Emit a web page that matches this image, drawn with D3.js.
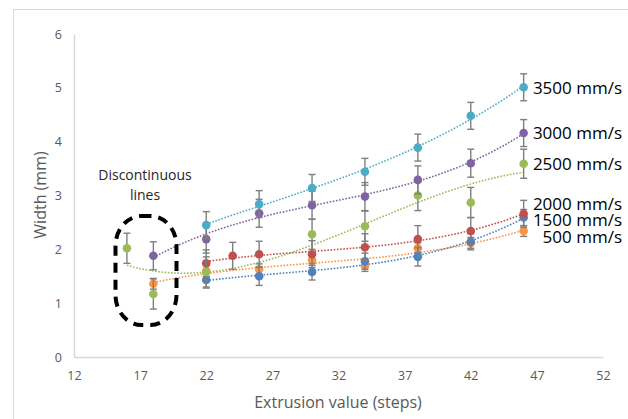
<!DOCTYPE html>
<html>
<head>
<meta charset="utf-8">
<script src="https://cdn.jsdelivr.net/npm/d3@7"></script>
<style>
  body { margin: 0; background: #fff; }
  svg { display: block; }
  text { font-family: "Open Sans", sans-serif; }
</style>
</head>
<body>
<svg id="chart" width="628" height="419"></svg>
<script>
/* data */
var speedLabels = ["500 mm/s", "1500 mm/s", "2000 mm/s", "2500 mm/s", "3000 mm/s", "3500 mm/s"];
var seriesColors = ["#F79646", "#4F81BD", "#C0504D", "#9BBB59", "#8064A2", "#4BACC6"];

var steps500 = [18, 22, 26, 30, 34, 38, 42, 46];
var width500 = [1.36, 1.60, 1.63, 1.80, 1.69, 2.02, 2.12, 2.34];
var err500   = [0.10, 0.10, 0.10, 0.10, 0.10, 0.10, 0.10, 0.10];

var steps1500 = [22, 26, 30, 34, 38, 42, 46];
var width1500 = [1.43, 1.50, 1.58, 1.78, 1.86, 2.14, 2.59];
var err1500   = [0.15, 0.17, 0.15, 0.15, 0.17, 0.15, 0.15];

var steps2000 = [22, 24, 26, 30, 34, 38, 42, 46];
var width2000 = [1.74, 1.88, 1.91, 1.91, 2.04, 2.19, 2.34, 2.66];
var err2000   = [0.25, 0.25, 0.24, 0.25, 0.25, 0.25, 0.25, 0.25];

var steps2500 = [16, 18, 22, 30, 34, 38, 42, 46];
var width2500 = [2.02, 1.17, 1.58, 2.28, 2.43, 3.00, 2.87, 3.59];
var err2500   = [0.28, 0.28, 0.28, 0.28, 0.28, 0.28, 0.28, 0.27];

var steps3000 = [18, 22, 26, 30, 34, 38, 42, 46];
var width3000 = [1.88, 2.19, 2.67, 2.82, 2.98, 3.29, 3.60, 4.16];
var err3000   = [0.26, 0.26, 0.26, 0.26, 0.26, 0.26, 0.26, 0.25];

var steps3500 = [22, 26, 30, 34, 38, 42, 46];
var width3500 = [2.45, 2.84, 3.14, 3.44, 3.89, 4.48, 5.01];
var err3500   = [0.25, 0.25, 0.25, 0.25, 0.25, 0.25, 0.25];

var xTicks = [12, 17, 22, 27, 32, 37, 42, 47, 52];
var yTicks = [0, 1, 2, 3, 4, 5, 6];

var allSteps = [steps500, steps1500, steps2000, steps2500, steps3000, steps3500];
var allWidths = [width500, width1500, width2000, width2500, width3000, width3500];
var allErrs = [err500, err1500, err2000, err2500, err3000, err3500];

// small vertical nudges so the end labels sit like the original (pixels)
var labelNudge = [6.5, 2, -10, 0.5, 0, 0.7];

var svg = d3.select("#chart");

var x = d3.scaleLinear().domain([12, 52]).range([74, 603]);
var y = d3.scaleLinear().domain([0, 6]).range([357, 34]);

// outer chart frame
svg.append("rect")
  .attr("x", 13.5).attr("y", 9.5)
  .attr("width", 700).attr("height", 500)
  .attr("fill", "none").attr("stroke", "#d9d9d9");

// axes
var xAxis = svg.append("g")
  .attr("transform", "translate(0," + y(0) + ")")
  .call(d3.axisBottom(x).tickValues(xTicks).tickSize(0).tickPadding(14));
var yAxis = svg.append("g")
  .attr("transform", "translate(" + x(12) + ",0)")
  .call(d3.axisLeft(y).tickValues(yTicks).tickFormat(d3.format("d")).tickSize(0).tickPadding(12));

[xAxis, yAxis].forEach(function (g) {
  g.select(".domain").attr("stroke", "#d9d9d9").attr("stroke-width", 1.5);
  g.selectAll("text")
    .attr("fill", "#595959")
    .style("font-size", "12.5px")
    .style("font-family", "'Open Sans', sans-serif");
});

svg.append("text")
  .attr("x", 338).attr("y", 408)
  .attr("text-anchor", "middle")
  .attr("fill", "#595959")
  .style("font-size", "16px")
  .text("Extrusion value (steps)");

svg.append("text")
  .attr("transform", "translate(46,195) rotate(-90)")
  .attr("text-anchor", "middle")
  .attr("fill", "#595959")
  .style("font-size", "16px")
  .text("Width (mm)");

// least squares polynomial (trendline)
function polyfit(xs, ys, order) {
  var n = order + 1;
  var A = [], b = [];
  for (var i = 0; i < n; i++) {
    A.push([]);
    for (var j = 0; j < n; j++) {
      A[i].push(d3.sum(xs, function (v) { return Math.pow(v - 30, i + j); }));
    }
    b.push(d3.sum(xs, function (v, k) { return ys[k] * Math.pow(v - 30, i); }));
  }
  for (var c = 0; c < n; c++) {
    var p = c;
    for (var r = c + 1; r < n; r++) if (Math.abs(A[r][c]) > Math.abs(A[p][c])) p = r;
    var t = A[c]; A[c] = A[p]; A[p] = t;
    var tb = b[c]; b[c] = b[p]; b[p] = tb;
    for (var r2 = c + 1; r2 < n; r2++) {
      var f = A[r2][c] / A[c][c];
      for (var k = c; k < n; k++) A[r2][k] -= f * A[c][k];
      b[r2] -= f * b[c];
    }
  }
  var coef = new Array(n);
  for (var r3 = n - 1; r3 >= 0; r3--) {
    var s = b[r3];
    for (var k2 = r3 + 1; k2 < n; k2++) s -= A[r3][k2] * coef[k2];
    coef[r3] = s / A[r3][r3];
  }
  return function (v) {
    return d3.sum(coef, function (cf, i) { return cf * Math.pow(v - 30, i); });
  };
}

var line = d3.line()
  .x(function (d) { return x(d[0]); })
  .y(function (d) { return y(d[1]); });

// trendlines
allSteps.forEach(function (xs, si) {
  var fit = polyfit(xs, allWidths[si], 3);
  var ext = d3.extent(xs);
  var pts = d3.range(0, 61).map(function (i) {
    var v = ext[0] + (ext[1] - ext[0]) * i / 60;
    return [v, fit(v)];
  });
  svg.append("path")
    .datum(pts)
    .attr("d", line)
    .attr("fill", "none")
    .attr("stroke", seriesColors[si])
    .attr("stroke-width", 1.6)
    .attr("stroke-dasharray", "1.6,1.6");
});

// error bars + markers
allSteps.forEach(function (xs, si) {
  var rows = xs.map(function (v, i) {
    return { x: v, y: allWidths[si][i], e: allErrs[si][i] };
  });
  var g = svg.append("g");
  var eb = g.selectAll("g.err").data(rows).enter().append("g")
    .attr("stroke", "#7f7f7f").attr("stroke-width", 1.4);
  eb.append("line")
    .attr("x1", function (d) { return x(d.x); }).attr("x2", function (d) { return x(d.x); })
    .attr("y1", function (d) { return y(d.y - d.e); }).attr("y2", function (d) { return y(d.y + d.e); });
  eb.append("line")
    .attr("x1", function (d) { return x(d.x) - 3.5; }).attr("x2", function (d) { return x(d.x) + 3.5; })
    .attr("y1", function (d) { return y(d.y + d.e); }).attr("y2", function (d) { return y(d.y + d.e); });
  eb.append("line")
    .attr("x1", function (d) { return x(d.x) - 3.5; }).attr("x2", function (d) { return x(d.x) + 3.5; })
    .attr("y1", function (d) { return y(d.y - d.e); }).attr("y2", function (d) { return y(d.y - d.e); });

  g.selectAll("circle").data(rows).enter().append("circle")
    .attr("cx", function (d) { return x(d.x); })
    .attr("cy", function (d) { return y(d.y); })
    .attr("r", 4.3)
    .attr("fill", seriesColors[si]);
});

// end labels
allSteps.forEach(function (xs, si) {
  var last = allWidths[si][allWidths[si].length - 1];
  svg.append("text")
    .attr("x", 622)
    .attr("y", y(last) + labelNudge[si])
    .attr("dy", "0.35em")
    .attr("text-anchor", "end")
    .attr("fill", "#000")
    .style("font-size", "17px")
    .text(speedLabels[si]);
});

// annotation
var note = svg.append("text")
  .attr("x", 145).attr("text-anchor", "middle")
  .attr("fill", "#262626")
  .style("font-size", "14px");
note.append("tspan").attr("x", 145).attr("y", 180).text("Discontinuous");
note.append("tspan").attr("x", 145).attr("y", 200).text("lines");

svg.append("rect")
  .attr("x", 115.5).attr("y", 216)
  .attr("width", 61).attr("height", 109)
  .attr("rx", 26).attr("ry", 30)
  .attr("fill", "none")
  .attr("stroke", "#000")
  .attr("stroke-width", 4)
  .attr("stroke-dasharray", "10,7");
</script>
</body>
</html>
